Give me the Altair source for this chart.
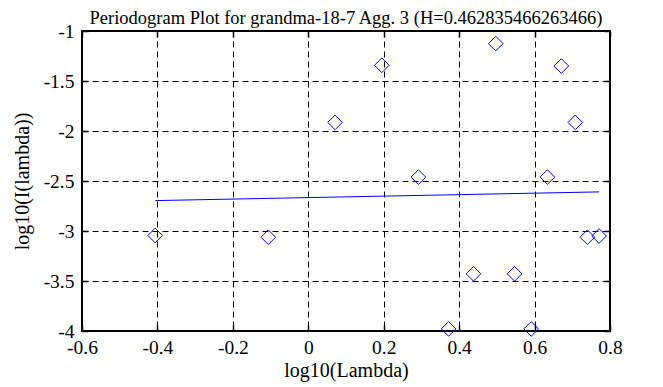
import altair as alt
import pandas as pd

# data
log_lambda = [-0.406, -0.106, 0.071, 0.195, 0.292, 0.372, 0.438, 0.497,
              0.547, 0.591, 0.634, 0.671, 0.708, 0.740, 0.771]
log_I = [-3.045, -3.062, -1.914, -1.343, -2.461, -3.979, -3.428, -1.126,
         -3.428, -3.979, -2.461, -1.350, -1.914, -3.062, -3.050]
fit_x = [-0.406, 0.771]
fit_y = [-2.696, -2.609]
x_ticks = [-0.6, -0.4, -0.2, 0.0, 0.2, 0.4, 0.6, 0.8]
y_ticks = [-4.0, -3.5, -3.0, -2.5, -2.0, -1.5, -1.0]
title_text = "Periodogram Plot for grandma-18-7 Agg. 3 (H=0.462835466263466)"

pts = pd.DataFrame({"x": log_lambda, "y": log_I})
fit = pd.DataFrame({"x": fit_x, "y": fit_y})

FONT = "Liberation Serif"
xs = alt.Scale(domain=[-0.6, 0.8], nice=False, zero=False)
ys = alt.Scale(domain=[-4, -1], nice=False, zero=False)
lab = "replace(format(datum.value, ''), '\u2212', '-')"

common = dict(labelFont=FONT, labelFontSize=19.5, labelColor="black",
              titleFont=FONT, titleFontSize=20, titleColor="black",
              titleFontWeight="normal")

main_x = alt.Axis(values=x_ticks, orient="bottom", title="log10(Lambda)", grid=True,
                  gridColor="black", gridDash=[6, 4], gridWidth=1, gridOpacity=1,
                  ticks=False, domain=False, labelPadding=7, labelFlush=False,
                  labelOverlap=False, labelExpr=lab, titlePadding=4, **common)
main_y = alt.Axis(values=y_ticks, orient="left", title="log10(I(lambda))", grid=True,
                  gridColor="black", gridDash=[6, 4], gridWidth=1, gridOpacity=1,
                  ticks=False, domain=False, labelPadding=8, labelFlush=False,
                  labelOverlap=False, labelExpr=lab, titlePadding=11, **common)


def tick_axis(orient, vals):
    return alt.Axis(values=vals, orient=orient, title=None, labels=False, grid=False,
                    domain=False, ticks=True, tickSize=6, tickWidth=1.5,
                    tickColor="black", offset=-6)


points = alt.Chart(pts).mark_point(shape="diamond", filled=False, color="#0000ff",
                                   size=215, strokeWidth=1, opacity=1).encode(
    x=alt.X("x:Q", scale=xs, axis=main_x),
    y=alt.Y("y:Q", scale=ys, axis=main_y),
)

line = alt.Chart(fit).mark_line(color="#0000ff", strokeWidth=1).encode(
    x=alt.X("x:Q", scale=xs, axis=tick_axis("top", x_ticks)),
    y=alt.Y("y:Q", scale=ys, axis=tick_axis("right", y_ticks)),
)

ghost = alt.Chart(fit).mark_line(opacity=0).encode(
    x=alt.X("x:Q", scale=xs, axis=tick_axis("bottom", x_ticks)),
    y=alt.Y("y:Q", scale=ys, axis=tick_axis("left", y_ticks)),
)

chart = alt.layer(points, line, ghost).resolve_axis(
    x="independent", y="independent"
).properties(
    width=528,
    height=300,
    title=alt.TitleParams(title_text, font=FONT, fontSize=18.5, fontWeight="normal",
                          color="black", anchor="middle", offset=0, dy=6),
    autosize=alt.AutoSizeParams(type="none"),
    padding={"left": 74, "top": 23, "right": 45, "bottom": 56},
).configure(
    font=FONT,
    background="white",
).configure_view(
    stroke="black", strokeWidth=2,
)

chart.save("out.html", embed_options={"renderer": "svg", "actions": False})
